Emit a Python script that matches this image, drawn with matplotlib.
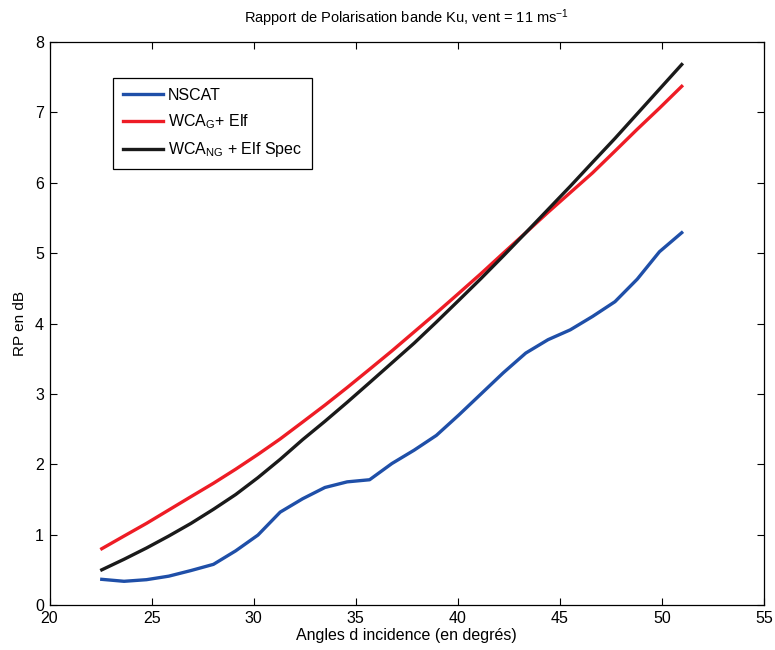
import matplotlib
matplotlib.use("Agg")
import matplotlib.pyplot as plt

plt.rcParams['font.family'] = ['Liberation Sans', 'DejaVu Sans']
plt.rcParams['mathtext.default'] = 'regular'

# Incidence angles (degrees)
angles = [22.56, 23.65, 24.75, 25.84, 26.93, 28.03, 29.12, 30.21, 31.30, 32.40,
          33.49, 34.58, 35.68, 36.77, 37.86, 38.95, 40.05, 41.14, 42.23, 43.33,
          44.42, 45.51, 46.60, 47.70, 48.79, 49.88, 50.97]

# Polarisation ratio (dB)
nscat = [0.365, 0.337, 0.36, 0.41, 0.49, 0.578, 0.77, 0.994, 1.32, 1.51,
         1.67, 1.75, 1.78, 2.01, 2.20, 2.41, 2.70, 3.00, 3.30, 3.58,
         3.77, 3.91, 4.10, 4.31, 4.63, 5.02, 5.29]
wca_g = [0.80, 0.98, 1.16, 1.35, 1.54, 1.73, 1.93, 2.14, 2.36, 2.60,
         2.84, 3.09, 3.35, 3.61, 3.88, 4.15, 4.43, 4.71, 5.00, 5.29,
         5.58, 5.86, 6.14, 6.45, 6.76, 7.06, 7.37]
wca_ng = [0.50, 0.65, 0.81, 0.98, 1.16, 1.36, 1.57, 1.81, 2.07, 2.35,
          2.61, 2.88, 3.16, 3.44, 3.72, 4.02, 4.33, 4.64, 4.96, 5.29,
          5.62, 5.95, 6.29, 6.63, 6.98, 7.33, 7.68]

labels = ['NSCAT', 'WCA$_G$+ Elf', 'WCA$_{NG}$ + Elf Spec']
colors = ['#1f4fa8', '#ee1c25', '#1a1a1a']

fig = plt.figure(figsize=(7.75, 6.5), dpi=100)
ax = fig.add_axes([0.0639, 0.0692, 0.9219, 0.8662])

for ys, lab, c in zip([nscat, wca_g, wca_ng], labels, colors):
    ax.plot(angles, ys, color=c, lw=2.4, label=lab)

ax.set_xlim(20, 55)
ax.set_ylim(0, 8)
ax.set_xticks(range(20, 56, 5))
ax.set_yticks(range(0, 9))
ax.tick_params(direction='in', top=True, right=True, labelsize=11.5, length=5, pad=4)
for s in ax.spines.values():
    s.set_linewidth(0.9)

ax.set_title('Rapport de Polarisation bande Ku, vent = 11 ms$^{-1}$', fontsize=10.5, pad=14)
ax.set_xlabel('Angles d incidence (en degrés)', fontsize=11.5, labelpad=2)
ax.set_ylabel('RP en dB', fontsize=11, labelpad=6)

leg = ax.legend(loc='upper left', bbox_to_anchor=(0.089, 0.936), fontsize=11.5,
                fancybox=False, framealpha=1, edgecolor='black',
                handlelength=2.5, handletextpad=0.35, labelspacing=0.6,
                borderpad=0.6, borderaxespad=0)
leg.get_frame().set_linewidth(0.9)

fig.savefig('out.png', dpi=100)
